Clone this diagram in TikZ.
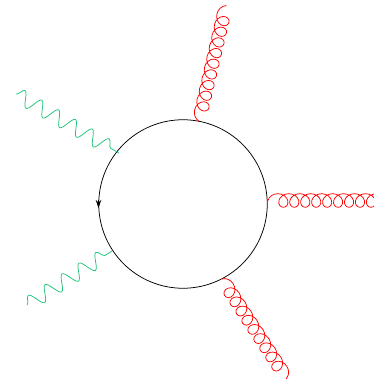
\documentclass[tikz,border=0pt]{standalone}
\usetikzlibrary{decorations.pathmorphing,decorations.markings,arrows.meta}
\definecolor{phot}{RGB}{30,195,120}
\tikzset{
 gluon/.style={draw=red,line width=0.75pt,decorate,decoration={coil,amplitude=6.8pt,segment length=10.95pt,aspect=1.05,pre length=0pt,post length=0pt}},
 photon/.style={draw=phot,line width=0.75pt,decorate,decoration={snake,amplitude=7.5pt,segment length=#1}},
 loopline/.style={draw=black,line width=0.75pt}
}
\begin{document}
\begin{tikzpicture}[x=1pt,y=-1pt]
\useasboundingbox (0,0) rectangle (374,380);
\clip (0,0) rectangle (374,380);
\node[circle,minimum size=168.5pt,inner sep=0pt,loopline] (loop) at (183,204) {};
\coordinate (g1a) at (199,121);
\coordinate (g1b) at (226,5);
\coordinate (g2a) at (268,200.5);
\coordinate (g2b) at (395,200.5);
\coordinate (g3a) at (222,279);
\coordinate (g3b) at (287,379);
\coordinate (p1a) at (119,153);
\coordinate (p1b) at (16,94);
\coordinate (p2a) at (112,251);
\coordinate (p2b) at (27,305);
\coordinate (arr) at (98.5,208);
\coordinate (arrb) at (98.5,200);
\draw[gluon] (g1a) -- (g1b);
\draw[gluon] (g2a) -- (g2b);
\draw[gluon] (g3a) -- (g3b);
\draw[photon=19.4pt] (p1b) -- (p1a);
\draw[photon=20pt] (p2b) -- (p2a);
\draw[-{Stealth[length=8pt,width=5.5pt]},line width=0.75pt] (arrb) -- (arr);
\end{tikzpicture}
\end{document}
